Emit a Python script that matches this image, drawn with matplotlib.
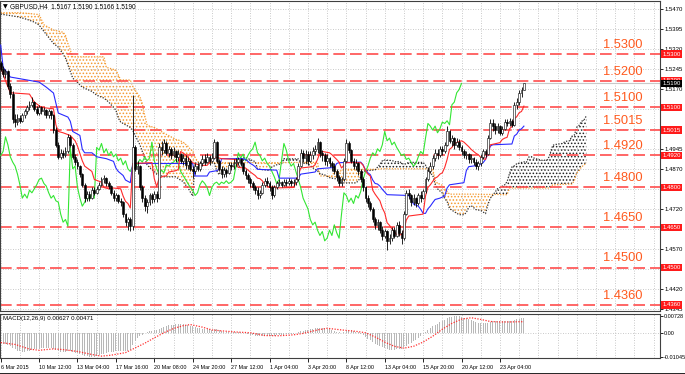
import matplotlib
matplotlib.use("Agg")
import matplotlib.pyplot as plt
from matplotlib.lines import Line2D
import matplotlib.transforms as mtransforms
import numpy as np

plt.rcParams["font.family"] = ["Liberation Sans", "DejaVu Sans"]
plt.rcParams["hatch.linewidth"] = 0.7

# GBPUSD H4 bars, 6 Mar - 24 Apr 2015
first_open = 1.5265
closes = [
    1.5245, 1.5225, 1.5235, 1.5180, 1.5150, 1.5055, 1.5045, 1.5060, 1.5050, 1.5070,
    1.5085, 1.5100, 1.5110, 1.5120, 1.5095, 1.5080, 1.5100, 1.5085, 1.5090, 1.5070,
    1.5085, 1.5070, 1.5015, 1.4960, 1.4915, 1.4930, 1.4920, 1.4935, 1.4990, 1.4960,
    1.4915, 1.4895, 1.4880, 1.4850, 1.4810, 1.4760, 1.4775, 1.4760, 1.4790, 1.4780,
    1.4795, 1.4810, 1.4830, 1.4835, 1.4815, 1.4805, 1.4780, 1.4760, 1.4770, 1.4750,
    1.4745, 1.4700, 1.4670, 1.4680, 1.4655, 1.4950, 1.4870, 1.4880, 1.4800, 1.4760,
    1.4730, 1.4745, 1.4770, 1.4755, 1.4775, 1.4760, 1.4950, 1.4940, 1.4965, 1.4930,
    1.4945, 1.4920, 1.4935, 1.4915, 1.4925, 1.4900, 1.4910, 1.4885, 1.4900, 1.4870,
    1.4860, 1.4880, 1.4870, 1.4890, 1.4905, 1.4895, 1.4915, 1.4900, 1.4910, 1.4970,
    1.4900, 1.4870, 1.4850, 1.4865, 1.4855, 1.4885, 1.4880, 1.4890, 1.4895, 1.4905,
    1.4890, 1.4860, 1.4845, 1.4830, 1.4815, 1.4800, 1.4790, 1.4770, 1.4780, 1.4810,
    1.4825, 1.4815, 1.4800, 1.4770, 1.4800, 1.4815, 1.4820, 1.4810, 1.4820, 1.4815,
    1.4825, 1.4815, 1.4820, 1.4830, 1.4880, 1.4930, 1.4910, 1.4925, 1.4900, 1.4920,
    1.4935, 1.4945, 1.4970, 1.4930, 1.4920, 1.4900, 1.4910, 1.4890, 1.4880, 1.4860,
    1.4840, 1.4815, 1.4830, 1.4900, 1.4965, 1.4940, 1.4900, 1.4880, 1.4890, 1.4860,
    1.4830, 1.4800, 1.4760, 1.4740, 1.4720, 1.4680, 1.4660, 1.4670, 1.4640, 1.4620,
    1.4635, 1.4600, 1.4610, 1.4640, 1.4620, 1.4660, 1.4630, 1.4610, 1.4700, 1.4780,
    1.4770, 1.4745, 1.4760, 1.4740, 1.4770, 1.4760, 1.4785, 1.4830, 1.4860, 1.4880,
    1.4910, 1.4930, 1.4920, 1.4945, 1.4935, 1.4960, 1.5010, 1.4975, 1.4985, 1.4960,
    1.4970, 1.4950, 1.4935, 1.4920, 1.4925, 1.4905, 1.4910, 1.4895, 1.4880, 1.4890,
    1.4915, 1.4935, 1.4925, 1.4985, 1.5040, 1.5030, 1.5015, 1.5030, 1.5005, 1.5020,
    1.5045, 1.5040, 1.5050, 1.5035, 1.5110, 1.5120, 1.5155, 1.5167, 1.5190]
highs = [
    1.5275, 1.5255, 1.5245, 1.5240, 1.5190, 1.5160, 1.5075, 1.5075, 1.5070, 1.5080,
    1.5095, 1.5110, 1.5125, 1.5140, 1.5125, 1.5105, 1.5110, 1.5105, 1.5100, 1.5095,
    1.5095, 1.5090, 1.5075, 1.5025, 1.4970, 1.4945, 1.4940, 1.4950, 1.5000, 1.4995,
    1.4965, 1.4925, 1.4905, 1.4885, 1.4855, 1.4815, 1.4785, 1.4785, 1.4800, 1.4800,
    1.4805, 1.4820, 1.4840, 1.4845, 1.4840, 1.4825, 1.4810, 1.4790, 1.4780, 1.4775,
    1.4760, 1.4750, 1.4705, 1.4690, 1.4690, 1.5145, 1.4960, 1.4900, 1.4885, 1.4810,
    1.4770, 1.4755, 1.4780, 1.4780, 1.4785, 1.4785, 1.4965, 1.4975, 1.4980, 1.4975,
    1.4955, 1.4950, 1.4950, 1.4940, 1.4940, 1.4930, 1.4925, 1.4920, 1.4915, 1.4905,
    1.4880, 1.4890, 1.4890, 1.4900, 1.4920, 1.4925, 1.4930, 1.4920, 1.4930, 1.4980,
    1.4975, 1.4905, 1.4880, 1.4875, 1.4870, 1.4895, 1.4895, 1.4905, 1.4910, 1.4915,
    1.4910, 1.4895, 1.4870, 1.4855, 1.4840, 1.4825, 1.4810, 1.4800, 1.4790, 1.4820,
    1.4835, 1.4840, 1.4825, 1.4810, 1.4810, 1.4825, 1.4830, 1.4825, 1.4830, 1.4830,
    1.4835, 1.4830, 1.4830, 1.4840, 1.4890, 1.4945, 1.4940, 1.4940, 1.4935, 1.4935,
    1.4950, 1.4960, 1.4985, 1.4975, 1.4940, 1.4930, 1.4925, 1.4915, 1.4900, 1.4890,
    1.4870, 1.4845, 1.4840, 1.4910, 1.4980, 1.4975, 1.4945, 1.4910, 1.4905, 1.4895,
    1.4870, 1.4840, 1.4805, 1.4770, 1.4750, 1.4725, 1.4690, 1.4680, 1.4675, 1.4655,
    1.4645, 1.4640, 1.4625, 1.4650, 1.4650, 1.4670, 1.4675, 1.4640, 1.4710, 1.4790,
    1.4795, 1.4775, 1.4775, 1.4765, 1.4780, 1.4785, 1.4795, 1.4840, 1.4875, 1.4895,
    1.4920, 1.4945, 1.4945, 1.4955, 1.4955, 1.4970, 1.5030, 1.5015, 1.4995, 1.4990,
    1.4985, 1.4980, 1.4960, 1.4945, 1.4935, 1.4930, 1.4925, 1.4915, 1.4905, 1.4900,
    1.4925, 1.4945, 1.4945, 1.4995, 1.5055, 1.5055, 1.5040, 1.5040, 1.5035, 1.5030,
    1.5055, 1.5055, 1.5060, 1.5055, 1.5120, 1.5135, 1.5165, 1.5175, 1.5190]
lows = [
    1.5235, 1.5215, 1.5210, 1.5170, 1.5135, 1.5040, 1.5025, 1.5035, 1.5040, 1.5045,
    1.5060, 1.5075, 1.5090, 1.5100, 1.5085, 1.5070, 1.5070, 1.5075, 1.5070, 1.5060,
    1.5060, 1.5055, 1.5005, 1.4950, 1.4905, 1.4905, 1.4910, 1.4915, 1.4930, 1.4950,
    1.4905, 1.4885, 1.4870, 1.4840, 1.4800, 1.4745, 1.4750, 1.4750, 1.4755, 1.4770,
    1.4775, 1.4790, 1.4805, 1.4815, 1.4805, 1.4795, 1.4770, 1.4750, 1.4750, 1.4740,
    1.4730, 1.4690, 1.4655, 1.4640, 1.4635, 1.4640, 1.4860, 1.4850, 1.4790, 1.4745,
    1.4710, 1.4705, 1.4735, 1.4740, 1.4745, 1.4745, 1.4755, 1.4920, 1.4930, 1.4920,
    1.4915, 1.4905, 1.4915, 1.4895, 1.4900, 1.4890, 1.4885, 1.4870, 1.4870, 1.4860,
    1.4835, 1.4850, 1.4860, 1.4860, 1.4880, 1.4885, 1.4890, 1.4885, 1.4895, 1.4905,
    1.4890, 1.4860, 1.4835, 1.4840, 1.4840, 1.4850, 1.4865, 1.4870, 1.4880, 1.4885,
    1.4880, 1.4850, 1.4830, 1.4815, 1.4800, 1.4790, 1.4775, 1.4755, 1.4760, 1.4775,
    1.4800, 1.4805, 1.4785, 1.4755, 1.4765, 1.4795, 1.4805, 1.4800, 1.4805, 1.4805,
    1.4810, 1.4805, 1.4805, 1.4810, 1.4825, 1.4875, 1.4895, 1.4890, 1.4885, 1.4895,
    1.4905, 1.4920, 1.4930, 1.4915, 1.4900, 1.4885, 1.4880, 1.4875, 1.4860, 1.4850,
    1.4825, 1.4805, 1.4805, 1.4825, 1.4895, 1.4930, 1.4890, 1.4870, 1.4865, 1.4845,
    1.4820, 1.4785, 1.4745, 1.4725, 1.4710, 1.4670, 1.4645, 1.4640, 1.4630, 1.4605,
    1.4610, 1.4565, 1.4590, 1.4600, 1.4610, 1.4615, 1.4620, 1.4590, 1.4605, 1.4695,
    1.4755, 1.4730, 1.4735, 1.4725, 1.4735, 1.4745, 1.4755, 1.4780, 1.4825, 1.4855,
    1.4870, 1.4900, 1.4905, 1.4915, 1.4920, 1.4930, 1.4955, 1.4965, 1.4955, 1.4945,
    1.4950, 1.4940, 1.4920, 1.4910, 1.4905, 1.4890, 1.4890, 1.4885, 1.4870, 1.4865,
    1.4880, 1.4905, 1.4915, 1.4920, 1.4980, 1.5010, 1.5000, 1.5005, 1.4995, 1.4995,
    1.5015, 1.5030, 1.5030, 1.5025, 1.5030, 1.5095, 1.5110, 1.5140, 1.5166]

# Ichimoku lines, read at their break points (bar index, price)
tenkan_x = [0, 2, 4, 12, 14, 17, 22, 23, 24, 26, 29, 30, 31, 32, 34, 35, 38, 39, 42, 43,
            45, 47, 50, 51, 52, 53, 54, 55, 63, 64, 65, 66, 68, 69, 70, 73, 74, 75, 77, 78,
            80, 83, 86, 89, 92, 98, 99, 102, 104, 106, 107, 108, 109, 110, 111, 113, 122, 123, 124, 125,
            130, 131, 132, 133, 134, 137, 138, 140, 141, 142, 144, 150, 151, 152, 153, 154, 155, 156, 158, 159,
            160, 161, 162, 163, 165, 167, 168, 169, 170, 176, 177, 178, 179, 180, 181, 182, 183, 184, 185, 186,
            187, 188, 189, 192, 193, 195, 196, 198, 199, 200, 202, 203, 204, 208, 209, 210, 211, 212, 213, 214,
            215, 216, 217, 218]
tenkan = [1.5250, 1.5200, 1.5155, 1.5150, 1.5120, 1.5100, 1.5095, 1.5035, 1.5010, 1.5005,
          1.4995, 1.4985, 1.4975, 1.4955, 1.4900, 1.4880, 1.4860, 1.4830, 1.4820, 1.4800,
          1.4795, 1.4798, 1.4795, 1.4768, 1.4748, 1.4740, 1.4723, 1.4890, 1.4893, 1.4833,
          1.4803, 1.4835, 1.4843, 1.4843, 1.4858, 1.4863, 1.4868, 1.4935, 1.4923, 1.4913,
          1.4893, 1.4883, 1.4883, 1.4915, 1.4908, 1.4905, 1.4875, 1.4873, 1.4858, 1.4845,
          1.4835, 1.4833, 1.4825, 1.4813, 1.4805, 1.4798, 1.4800, 1.4818, 1.4845, 1.4873,
          1.4878, 1.4885, 1.4905, 1.4930, 1.4935, 1.4930, 1.4923, 1.4905, 1.4895, 1.4873,
          1.4893, 1.4893, 1.4883, 1.4863, 1.4850, 1.4843, 1.4790, 1.4775, 1.4750, 1.4723,
          1.4705, 1.4668, 1.4658, 1.4645, 1.4623, 1.4623, 1.4638, 1.4678, 1.4693, 1.4700,
          1.4768, 1.4800, 1.4810, 1.4823, 1.4835, 1.4840, 1.4850, 1.4855, 1.4875, 1.4905,
          1.4943, 1.4950, 1.4965, 1.4975, 1.4970, 1.4953, 1.4943, 1.4928, 1.4923, 1.4913,
          1.4905, 1.4930, 1.4960, 1.4968, 1.4980, 1.4985, 1.4988, 1.5020, 1.5028, 1.5058,
          1.5065, 1.5080, 1.5085, 1.5105]

kijun_x = [0, 1, 4, 16, 19, 22, 23, 24, 28, 29, 30, 33, 34, 35, 38, 40, 44, 47, 48, 49,
           51, 52, 54, 55, 80, 81, 86, 87, 90, 91, 92, 101, 102, 103, 104, 105, 106, 107, 115, 116,
           124, 125, 131, 132, 139, 140, 141, 150, 151, 152, 153, 154, 155, 156, 157, 158, 159, 161, 170, 171,
           172, 174, 175, 176, 177, 178, 179, 180, 181, 183, 185, 186, 187, 193, 194, 195, 199, 200, 201, 202,
           203, 204, 205, 213, 214, 215, 216, 217, 218]
kijun = [1.5334, 1.5251, 1.5214, 1.5195, 1.5176, 1.5154, 1.5116, 1.5079, 1.5064, 1.5048,
         1.5010, 1.4995, 1.4943, 1.4930, 1.4930, 1.4915, 1.4908, 1.4898, 1.4873, 1.4860,
         1.4845, 1.4828, 1.4818, 1.4890, 1.4890, 1.4843, 1.4843, 1.4858, 1.4863, 1.4868,
         1.4908, 1.4908, 1.4905, 1.4898, 1.4890, 1.4885, 1.4878, 1.4868, 1.4865, 1.4835,
         1.4835, 1.4850, 1.4858, 1.4870, 1.4875, 1.4890, 1.4893, 1.4895, 1.4885, 1.4865,
         1.4855, 1.4848, 1.4828, 1.4815, 1.4813, 1.4805, 1.4793, 1.4773, 1.4770, 1.4755,
         1.4738, 1.4730, 1.4718, 1.4703, 1.4703, 1.4720, 1.4730, 1.4743, 1.4755, 1.4760,
         1.4768, 1.4798, 1.4810, 1.4818, 1.4863, 1.4878, 1.4883, 1.4888, 1.4893, 1.4905,
         1.4928, 1.4955, 1.4960, 1.4963, 1.4993, 1.5000, 1.5015, 1.5020, 1.5030]

# Senkou span A / B (cloud), read at common bar positions (shifted 26 bars ahead)
cloud_x = [0, 7, 8, 11, 14, 16, 18, 22, 24, 26, 27, 28, 30, 34, 38, 40, 43, 44, 45, 48,
           49, 50, 52, 54, 55, 56, 58, 59, 60, 61, 62, 64, 65, 68, 71, 72, 73, 74, 76, 77,
           78, 79, 80, 81, 82, 83, 89, 90, 91, 92, 94, 96, 99, 100, 101, 103, 104, 106, 107, 109,
           112, 113, 115, 117, 118, 124, 125, 128, 130, 132, 133, 135, 137, 138, 139, 140, 141, 142, 143, 148,
           149, 150, 151, 156, 157, 158, 159, 160, 163, 165, 166, 168, 170, 176, 177, 178, 179, 180, 181, 182,
           183, 184, 185, 186, 187, 189, 191, 193, 194, 195, 196, 197, 198, 200, 202, 203, 204, 205, 206, 207,
           209, 210, 211, 212, 213, 214, 215, 218, 219, 220, 221, 222, 224, 225, 226, 228, 229, 230, 231, 234,
           235, 236, 237, 238, 239, 240, 241, 242, 243, 244]
span_a = [1.5450, 1.5440, 1.5438, 1.5430, 1.5420, 1.5409, 1.5385, 1.5340, 1.5326, 1.5300,
          1.5285, 1.5260, 1.5210, 1.5176, 1.5160, 1.5146, 1.5135, 1.5128, 1.5120, 1.5090,
          1.5060, 1.5045, 1.5035, 1.5025, 1.5015, 1.4995, 1.4960, 1.4935, 1.4910, 1.4885,
          1.4875, 1.4860, 1.4850, 1.4840, 1.4840, 1.4840, 1.4840, 1.4833, 1.4822, 1.4810,
          1.4800, 1.4783, 1.4768, 1.4892, 1.4892, 1.4892, 1.4892, 1.4863, 1.4848, 1.4864,
          1.4868, 1.4876, 1.4878, 1.4881, 1.4914, 1.4909, 1.4904, 1.4897, 1.4870, 1.4867,
          1.4864, 1.4877, 1.4885, 1.4889, 1.4908, 1.4907, 1.4892, 1.4889, 1.4874, 1.4862,
          1.4852, 1.4847, 1.4837, 1.4835, 1.4833, 1.4833, 1.4832, 1.4817, 1.4817, 1.4817,
          1.4825, 1.4840, 1.4861, 1.4866, 1.4876, 1.4887, 1.4900, 1.4903, 1.4901, 1.4895,
          1.4898, 1.4886, 1.4894, 1.4894, 1.4884, 1.4864, 1.4853, 1.4846, 1.4812, 1.4795,
          1.4787, 1.4779, 1.4758, 1.4748, 1.4721, 1.4709, 1.4698, 1.4698, 1.4706, 1.4726,
          1.4732, 1.4725, 1.4717, 1.4714, 1.4702, 1.4736, 1.4760, 1.4770, 1.4783, 1.4795,
          1.4805, 1.4810, 1.4822, 1.4852, 1.4877, 1.4881, 1.4889, 1.4896, 1.4894, 1.4914,
          1.4916, 1.4911, 1.4905, 1.4903, 1.4901, 1.4905, 1.4929, 1.4958, 1.4961, 1.4965,
          1.4971, 1.4974, 1.4975, 1.4992, 1.4996, 1.5026, 1.5033, 1.5048, 1.5053, 1.5068]
span_b = [1.5455, 1.5455, 1.5455, 1.5453, 1.5450, 1.5448, 1.5410, 1.5390, 1.5386, 1.5382,
          1.5370, 1.5340, 1.5290, 1.5290, 1.5290, 1.5290, 1.5290, 1.5250, 1.5248, 1.5240,
          1.5222, 1.5203, 1.5203, 1.5203, 1.5180, 1.5165, 1.5140, 1.5115, 1.5070, 1.5035,
          1.5030, 1.5025, 1.5020, 1.5004, 1.4990, 1.4985, 1.4980, 1.4978, 1.4970, 1.4962,
          1.4955, 1.4943, 1.4938, 1.4913, 1.4898, 1.4893, 1.4893, 1.4893, 1.4893, 1.4893,
          1.4893, 1.4893, 1.4893, 1.4893, 1.4893, 1.4893, 1.4893, 1.4893, 1.4893, 1.4893,
          1.4893, 1.4893, 1.4893, 1.4893, 1.4893, 1.4894, 1.4894, 1.4894, 1.4894, 1.4895,
          1.4843, 1.4843, 1.4843, 1.4843, 1.4858, 1.4860, 1.4861, 1.4863, 1.4868, 1.4868,
          1.4868, 1.4868, 1.4868, 1.4868, 1.4868, 1.4870, 1.4870, 1.4870, 1.4870, 1.4870,
          1.4870, 1.4870, 1.4870, 1.4870, 1.4870, 1.4870, 1.4870, 1.4870, 1.4828, 1.4815,
          1.4813, 1.4808, 1.4795, 1.4785, 1.4775, 1.4775, 1.4775, 1.4775, 1.4775, 1.4775,
          1.4775, 1.4775, 1.4775, 1.4774, 1.4774, 1.4774, 1.4774, 1.4774, 1.4774, 1.4774,
          1.4773, 1.4773, 1.4773, 1.4798, 1.4798, 1.4798, 1.4798, 1.4798, 1.4798, 1.4798,
          1.4798, 1.4798, 1.4798, 1.4798, 1.4798, 1.4798, 1.4798, 1.4810, 1.4810, 1.4812,
          1.4812, 1.4812, 1.4813, 1.4813, 1.4825, 1.4855, 1.4863, 1.4878, 1.4883, 1.4893]

# MACD(12,26,9): main histogram per bar, signal read at break points
macd_main = [
    -0.0045, -0.0048, -0.0050, -0.0052, -0.0056, -0.0064, -0.0071, -0.0076, -0.0080, -0.0082,
    -0.0082, -0.0080, -0.0077, -0.0073, -0.0071, -0.0070, -0.0068, -0.0067, -0.0066, -0.0066,
    -0.0065, -0.0066, -0.0069, -0.0073, -0.0078, -0.0081, -0.0083, -0.0083, -0.0079, -0.0078,
    -0.0082, -0.0085, -0.0087, -0.0089, -0.0094, -0.0098, -0.0101, -0.0104, -0.0104, -0.0102,
    -0.0100, -0.0097, -0.0093, -0.0089, -0.0086, -0.0084, -0.0083, -0.0082, -0.0080, -0.0079,
    -0.0076, -0.0076, -0.0077, -0.0076, -0.0075, -0.0052, -0.0035, -0.0022, -0.0015, -0.0008,
    -0.0002, 0.0003, 0.0006, 0.0008, 0.0010, 0.0012, 0.0018, 0.0022, 0.0026, 0.0029,
    0.0031, 0.0033, 0.0035, 0.0036, 0.0037, 0.0037, 0.0036, 0.0035, 0.0033, 0.0030,
    0.0027, 0.0024, 0.0021, 0.0019, 0.0018, 0.0016, 0.0015, 0.0014, 0.0013, 0.0016,
    0.0014, 0.0010, 0.0006, 0.0004, 0.0002, 0.0002, 0.0001, 0.0001, 0.0001, 0.0002,
    0.0001, -0.0001, -0.0003, -0.0005, -0.0008, -0.0010, -0.0013, -0.0015, -0.0016, -0.0015,
    -0.0013, -0.0012, -0.0012, -0.0014, -0.0013, -0.0011, -0.0010, -0.0009, -0.0008, -0.0007,
    -0.0006, -0.0005, -0.0004, -0.0003, 0.0001, 0.0006, 0.0009, 0.0012, 0.0013, 0.0015,
    0.0017, 0.0019, 0.0022, 0.0022, 0.0021, 0.0019, 0.0017, 0.0015, 0.0012, 0.0009,
    0.0005, 0.0001, 0.0000, 0.0003, 0.0009, 0.0011, 0.0010, 0.0007, 0.0005, 0.0001,
    -0.0004, -0.0010, -0.0018, -0.0025, -0.0032, -0.0040, -0.0047, -0.0052, -0.0058, -0.0063,
    -0.0066, -0.0071, -0.0072, -0.0072, -0.0072, -0.0069, -0.0068, -0.0068, -0.0062, -0.0055,
    -0.0048, -0.0042, -0.0036, -0.0030, -0.0022, -0.0014, -0.0006, 0.0003, 0.0012, 0.0020,
    0.0027, 0.0034, 0.0039, 0.0045, 0.0050, 0.0055, 0.0062, 0.0066, 0.0069, 0.0071,
    0.0073, 0.0072, 0.0069, 0.0065, 0.0061, 0.0057, 0.0053, 0.0049, 0.0045, 0.0042,
    0.0041, 0.0041, 0.0040, 0.0042, 0.0047, 0.0050, 0.0051, 0.0051, 0.0049, 0.0048,
    0.0049, 0.0050, 0.0051, 0.0050, 0.0054, 0.0057, 0.0060, 0.0061, 0.0063]
signal_x = [0, 6, 12, 16, 22, 26, 32, 38, 42, 46, 52, 56, 60, 64, 68, 72, 76, 79, 84, 88,
            92, 98, 104, 110, 116, 122, 126, 132, 136, 142, 148, 152, 156, 160, 164, 168, 172, 176, 180, 184,
            188, 192, 196, 200, 204, 208, 212, 216, 218]
signal = [-0.0042, -0.0050, -0.0070, -0.0075, -0.0069, -0.0072, -0.0080, -0.0093, -0.0100, -0.0096,
          -0.0085, -0.0065, -0.0045, -0.0022, 0.0000, 0.0018, 0.0030, 0.0035, 0.0024, 0.0012,
          0.0008, 0.0003, 0.0000, -0.0012, -0.0013, -0.0009, -0.0003, 0.0012, 0.0019, 0.0012,
          0.0006, 0.0000, -0.0018, -0.0040, -0.0058, -0.0066, -0.0058, -0.0040, -0.0015, 0.0015,
          0.0040, 0.0058, 0.0064, 0.0057, 0.0048, 0.0046, 0.0046, 0.0047, 0.00471]

levels = [1.5300, 1.5200, 1.5100, 1.5015, 1.4920, 1.4800, 1.4650, 1.4500, 1.4360]
price_ticks = [1.5470, 1.5395, 1.5320, 1.5245, 1.5170, 1.5095, 1.5020, 1.4945,
               1.4870, 1.4795, 1.4720, 1.4645, 1.4570, 1.4495, 1.4420, 1.4345]
# tick labels that sit under the red level boxes are hidden on the chart
hidden_ticks = [1.5095, 1.5020, 1.4795, 1.4645, 1.4495]
time_labels = ["6 Mar 2015", "10 Mar 12:00", "13 Mar 04:00", "17 Mar 16:00", "20 Mar 08:00",
               "24 Mar 20:00", "27 Mar 12:00", "1 Apr 04:00", "3 Apr 20:00", "8 Apr 12:00",
               "13 Apr 04:00", "15 Apr 20:00", "20 Apr 12:00", "23 Apr 04:00"]
bid = 1.5190

W, H = 685, 374
fig = plt.figure(figsize=(W / 100, H / 100), dpi=100)
ax = fig.add_axes([0, 1 - 311 / H, 660 / W, 310 / H])
axm = fig.add_axes([0, 1 - 358 / H, 660 / W, 44 / H], sharex=ax)

bars = np.arange(len(closes))
opens = np.r_[first_open, closes[:-1]]
c = np.array(closes)
xlim = (-0.29, 274.7)
label_ticks = np.arange(len(time_labels)) * 16

# grid
for a in (ax, axm):
    a.set_xticks(label_ticks)
    a.set_xticks(np.arange(8, 275, 8), minor=True)
    a.grid(True, axis="x", which="both", ls=(0, (1, 2)), color="#b8b8b8", lw=0.6)
    a.set_xlim(*xlim)
    for s in a.spines.values():
        s.set_color("#404040")
        s.set_linewidth(0.8)

ax.set_ylim(1.4337, 1.5499)
ax.yaxis.tick_right()
ax.set_yticks(price_ticks)
ax.set_yticklabels(["" if p in hidden_ticks else f"{p:.4f}" for p in price_ticks])
ax.tick_params(axis="y", labelsize=4.3, length=2, pad=1, width=0.6)
ax.grid(True, axis="y", ls=(0, (1, 2)), color="#b8b8b8", lw=0.6)
ax.tick_params(axis="x", which="both", length=0, labelbottom=False)

# cloud
a_arr, b_arr = np.array(span_a), np.array(span_b)
ax.fill_between(cloud_x, a_arr, b_arr, where=b_arr >= a_arr, interpolate=True,
                facecolor="none", edgecolor="#f59a30", hatch=".....", lw=0, zorder=1)
ax.fill_between(cloud_x, a_arr, b_arr, where=a_arr > b_arr, interpolate=True,
                facecolor="none", edgecolor="#202020", hatch=".....", lw=0, zorder=1)
ax.plot(cloud_x, span_b, color="#f59a30", ls=(0, (1, 1.2)), lw=0.9, zorder=2)
ax.plot(cloud_x, span_a, color="#303030", ls=(0, (1, 1.2)), lw=0.9, zorder=2)

# level lines and labels
lbl_tr = mtransforms.blended_transform_factory(ax.transAxes, ax.transData)
for lv in levels:
    ax.axhline(lv, color="#ff4d4d", lw=1.2, dashes=(7, 3), zorder=2)
    ax.text(623 / 660, lv + 0.0012, f"{lv:.4f}", transform=lbl_tr, ha="center",
            va="bottom", color="#ff5a1e", fontsize=9.3, zorder=3)
    ax.text(1.0035, lv, f"{lv:.4f}", transform=lbl_tr, ha="left", va="center",
            color="white", fontsize=4.3, clip_on=False, zorder=6,
            bbox=dict(boxstyle="square,pad=0.2", fc="#ff1a1a", ec="none"))
ax.axhline(bid, color="#c8c8c8", lw=0.8, zorder=2)
ax.text(1.0035, bid, f"{bid:.4f}", transform=lbl_tr, ha="left", va="center",
        color="white", fontsize=4.3, clip_on=False, zorder=6,
        bbox=dict(boxstyle="square,pad=0.2", fc="black", ec="none"))

# indicator lines
ax.plot(bars[:-26], c[26:], color="#33e633", lw=0.8, zorder=3)
ax.plot(kijun_x, kijun, color="#2a2aff", lw=0.8, zorder=3)
ax.plot(tenkan_x, tenkan, color="#ff2a2a", lw=0.8, zorder=3)

# candles
ax.vlines(bars, lows, highs, color="black", lw=0.6, zorder=4)
up = c >= opens
ax.bar(bars[up], c[up] - opens[up], bottom=opens[up], width=0.75,
       color="white", edgecolor="black", lw=0.4, zorder=5)
ax.bar(bars[~up], opens[~up] - c[~up], bottom=c[~up], width=0.75,
       color="black", edgecolor="black", lw=0.4, zorder=5)

# MACD panel
axm.bar(bars, macd_main, width=0.45, color="#b8b8b8", zorder=2)
axm.plot(signal_x, signal, color="#ff3030", ls=(0, (1, 1.2)), lw=0.9, zorder=3)
axm.axhline(0, color="#b8b8b8", ls=(0, (1, 2)), lw=0.6)
axm.set_ylim(-0.0108, 0.0080)
axm.yaxis.tick_right()
axm.set_yticks([0.00728, 0.0, -0.01045])
axm.set_yticklabels(["0.00728", "0.00", "-0.01045"])
axm.tick_params(axis="y", labelsize=4.0, length=2, pad=1, width=0.6)
axm.tick_params(axis="x", which="major", labelsize=3.9, length=3, width=0.6, pad=2)
axm.tick_params(axis="x", which="minor", length=0)
axm.set_xticklabels(time_labels, ha="left")
axm.text(0.005, 0.95, "MACD(12,26,9) 0.00627 0.00471", transform=axm.transAxes,
         fontsize=4.4, va="top", ha="left")

fig.text(3 / W, 1 - 7 / H, "\u25bc", fontsize=4.4, va="center", ha="left",
         family="DejaVu Sans")
fig.text(10 / W, 1 - 7 / H, "GBPUSD,H4  1.5167 1.5190 1.5166 1.5190",
         fontsize=4.7, va="center", ha="left")
fig.add_artist(Line2D([0, 1], [0.5 / H, 0.5 / H], color="black", lw=1.2))

fig.savefig("out.png", dpi=100)
